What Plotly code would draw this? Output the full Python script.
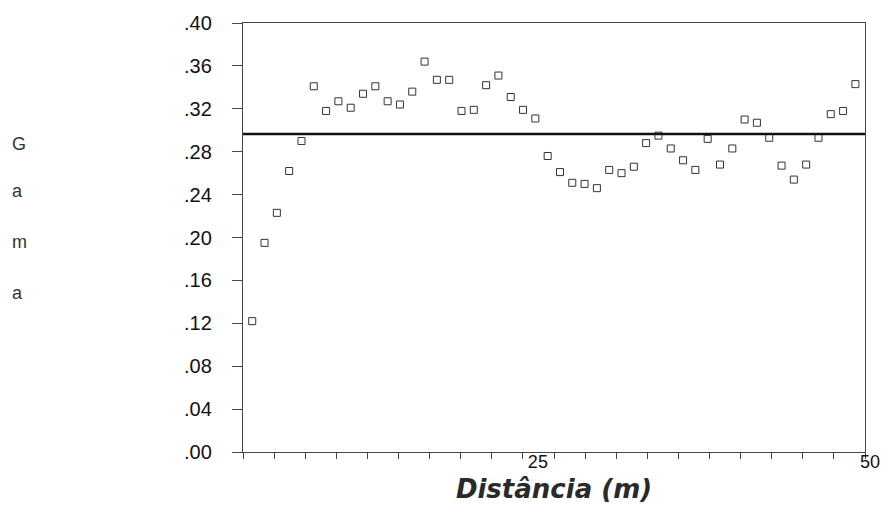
import numpy as np
import plotly.graph_objects as go

# Experimental semivariogram: lag distance (m) and gamma value
LAG_M = list(range(1, 51))
GAMMA = [
    0.122, 0.195, 0.223, 0.262, 0.290, 0.341, 0.318, 0.327, 0.321, 0.334,
    0.341, 0.327, 0.324, 0.336, 0.364, 0.347, 0.347, 0.318, 0.319, 0.342,
    0.351, 0.331, 0.319, 0.311, 0.276, 0.261, 0.251, 0.250, 0.246, 0.263,
    0.260, 0.266, 0.288, 0.295, 0.283, 0.272, 0.263, 0.292, 0.268, 0.283,
    0.310, 0.307, 0.293, 0.267, 0.254, 0.268, 0.293, 0.315, 0.318, 0.343,
]
SILL = 0.2965  # sample variance (horizontal reference line)

Y_TICK_VALUES = [0.00, 0.04, 0.08, 0.12, 0.16, 0.20, 0.24, 0.28, 0.32, 0.36, 0.40]
Y_TICK_LABELS = [".00", ".04", ".08", ".12", ".16", ".20", ".24", ".28", ".32", ".36", ".40"]
X_RANGE = [0.25, 50.78]
X_LABEL_POS = [23.8, 50.78]
X_LABEL_TEXT = ["25", "50"]
Y_TITLE_LETTERS = ["G", "a", "m", "a"]

AXIS_COLOR = "#444444"
TEXT_COLOR = "#111111"

fig = go.Figure()

fig.add_trace(go.Scatter(
    x=LAG_M, y=GAMMA, mode="markers",
    marker=dict(symbol="square-open", size=7, color="#333333", line=dict(width=1)),
    xaxis="x", yaxis="y", hoverinfo="x+y",
))

fig.add_trace(go.Scatter(
    x=X_RANGE, y=[SILL, SILL], mode="lines",
    line=dict(color="#111111", width=2.5),
    xaxis="x2", yaxis="y", hoverinfo="skip",
))

# vertical "Gama" label, one letter per line
letter_y = [0.718, 0.608, 0.489, 0.371]
for letter, yy in zip(Y_TITLE_LETTERS, letter_y):
    fig.add_annotation(
        text=letter, xref="paper", yref="paper", x=-0.374, y=yy,
        xanchor="left", yanchor="middle", showarrow=False,
        font=dict(family="Liberation Sans, Arial, sans-serif", size=18, color="#333333"),
    )

fig.update_layout(
    width=892, height=522,
    margin=dict(l=243, r=20, t=22, b=70, pad=0),
    plot_bgcolor="white", paper_bgcolor="white",
    showlegend=False,
    xaxis=dict(
        range=X_RANGE,
        tickmode="array", tickvals=list(np.linspace(X_RANGE[0], X_RANGE[1], 21)),
        showticklabels=False,
        ticks="outside", ticklen=6, tickwidth=1, tickcolor=AXIS_COLOR,
        showline=True, linecolor=AXIS_COLOR, linewidth=1.3, mirror=True,
        showgrid=False, zeroline=False,
        title=dict(
            text="Distância (m)", standoff=21,
            font=dict(family="DejaVu Sans, sans-serif", size=26, weight="bold",
                      style="italic", color="#2a2a2a"),
        ),
    ),
    xaxis2=dict(
        overlaying="x", anchor="free", position=0.008, side="bottom", range=X_RANGE,
        tickmode="array", tickvals=X_LABEL_POS, ticktext=X_LABEL_TEXT,
        ticks="", showline=False, showgrid=False, zeroline=False,
        ticklabelshift=5, ticklabelstandoff=0,
        tickfont=dict(family="Liberation Sans, Arial, sans-serif", size=18, color=TEXT_COLOR),
    ),
    yaxis=dict(
        range=[0, 0.40],
        tickmode="array", tickvals=Y_TICK_VALUES, ticktext=Y_TICK_LABELS,
        ticks="outside", ticklen=10, tickwidth=1, tickcolor=AXIS_COLOR,
        ticklabelstandoff=16,
        tickfont=dict(family="Liberation Sans, Arial, sans-serif", size=20, color=TEXT_COLOR),
        showline=True, linecolor=AXIS_COLOR, linewidth=1.3, mirror=True,
        showgrid=False, zeroline=False,
    ),
)

fig.write_html("out.html")
